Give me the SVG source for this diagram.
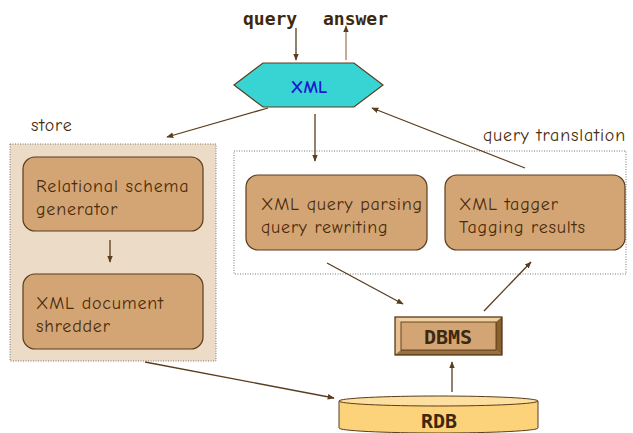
<svg xmlns="http://www.w3.org/2000/svg" width="633" height="433" viewBox="0 0 633 433">
<defs>
<style>
.lbl{font-family:"Comic Neue","Liberation Sans","DejaVu Sans",sans-serif;font-size:18px;letter-spacing:0.8px;fill:#4a2c0c}
.mono{font-family:"DejaVu Sans Mono","Liberation Mono",monospace;font-weight:bold;fill:#3d2810}
.box{fill:#d4a574;stroke:#5a3d1e;stroke-width:1.2}
.conn{stroke:#5a3d1e;stroke-width:1.3;fill:none;marker-end:url(#ah)}
.dot{fill:none;stroke:#777;stroke-width:1;stroke-dasharray:1,1.5}
</style>
<marker id="ah" viewBox="0 0 10 10" refX="9" refY="5" markerWidth="7" markerHeight="7" orient="auto" markerUnits="userSpaceOnUse">
<path d="M0,1 L10,5 L0,9 z" fill="#5a3d1e"/>
</marker>
<marker id="ah2" viewBox="0 0 10 10" refX="9" refY="5" markerWidth="7" markerHeight="7" orient="auto" markerUnits="userSpaceOnUse">
<path d="M0,1 L10,5 L0,9 z" fill="#5a3d1e"/>
</marker>
</defs>
<rect width="633" height="433" fill="#fff"/>

<g id="labels">
<text class="mono" x="243" y="25" font-size="18">query</text>
<text class="mono" x="323" y="25" font-size="18">answer</text>
<text class="lbl" x="31" y="131">store</text>
<text class="lbl" x="483" y="141">query translation</text>
</g>

<g id="store-group">
<rect x="10" y="144" width="206" height="217" fill="#ecdbc6"/>
<rect x="10" y="144" width="206" height="217" class="dot"/>
</g>
<g id="qt-group">
<rect x="234" y="151" width="392" height="123" class="dot"/>
</g>

<g id="xml">
<polygon points="234,85 263,63 354,63 383,85 354,107 263,107" fill="#38d4d4" stroke="#5a3d1e" stroke-width="1.2"/>
<text x="309" y="93" text-anchor="middle" font-family="Comic Neue,Liberation Sans,sans-serif" font-weight="bold" font-size="18" fill="#1a1ad0">XML</text>
</g>

<g id="schema-gen">
<rect class="box" x="23" y="157" width="180" height="74" rx="12"/>
<text class="lbl" x="36" y="192">Relational schema</text>
<text class="lbl" x="36" y="215">generator</text>
</g>
<g id="shredder">
<rect class="box" x="23" y="274" width="180" height="75" rx="12"/>
<text class="lbl" x="36" y="309">XML document</text>
<text class="lbl" x="36" y="332">shredder</text>
</g>
<g id="parsing">
<rect class="box" x="246" y="175" width="181" height="75" rx="12"/>
<text class="lbl" x="261" y="210">XML query parsing</text>
<text class="lbl" x="261" y="233">query rewriting</text>
</g>
<g id="tagger">
<rect class="box" x="445" y="175" width="180" height="75" rx="12"/>
<text class="lbl" x="459" y="210">XML tagger</text>
<text class="lbl" x="459" y="233">Tagging results</text>
</g>

<g id="dbms">
<rect x="395" y="317" width="107" height="38" fill="#d4a574"/>
<polygon points="395,317 502,317 496,322 401,322" fill="#f0d0a0"/>
<polygon points="395,317 401,322 401,350 395,355" fill="#e8c090"/>
<polygon points="502,317 502,355 496,350 496,322" fill="#8a6030"/>
<polygon points="395,355 401,350 496,350 502,355" fill="#9a7040"/>
<rect x="401" y="322" width="95" height="28" fill="#d4a574" stroke="#4a2c0c" stroke-width="0.8"/>
<rect x="395" y="317" width="107" height="38" fill="none" stroke="#4a2c0c" stroke-width="1.2"/>
<text class="mono" x="448" y="344" text-anchor="middle" font-size="20">DBMS</text>
</g>

<g id="rdb">
<path d="M339,401 L339,428 A99.5,5 0 0 0 538,428 L538,401 Z" fill="#fcd27a" stroke="#5a3d1e" stroke-width="1"/>
<ellipse cx="438.5" cy="401" rx="99.5" ry="5" fill="#fde0a0" stroke="#5a3d1e" stroke-width="1"/>
<text class="mono" x="439" y="428" text-anchor="middle" font-size="20">RDB</text>
</g>

<g id="connectors">
<line class="conn" x1="296" y1="28" x2="296" y2="60"/>
<line x1="346" y1="60" x2="346" y2="26" stroke="#a08060" stroke-width="1.3" marker-end="url(#ah2)"/>
<line class="conn" x1="268" y1="108" x2="167" y2="137"/>
<line class="conn" x1="315" y1="114" x2="315" y2="161"/>
<line class="conn" x1="525" y1="168" x2="372" y2="108"/>
<line class="conn" x1="110" y1="240" x2="110" y2="262"/>
<line class="conn" x1="327" y1="263" x2="403" y2="304"/>
<line class="conn" x1="484" y1="311" x2="531" y2="262"/>
<line class="conn" x1="452" y1="392" x2="452" y2="362"/>
<line class="conn" x1="145" y1="362" x2="334" y2="398"/>
</g>
</svg>
